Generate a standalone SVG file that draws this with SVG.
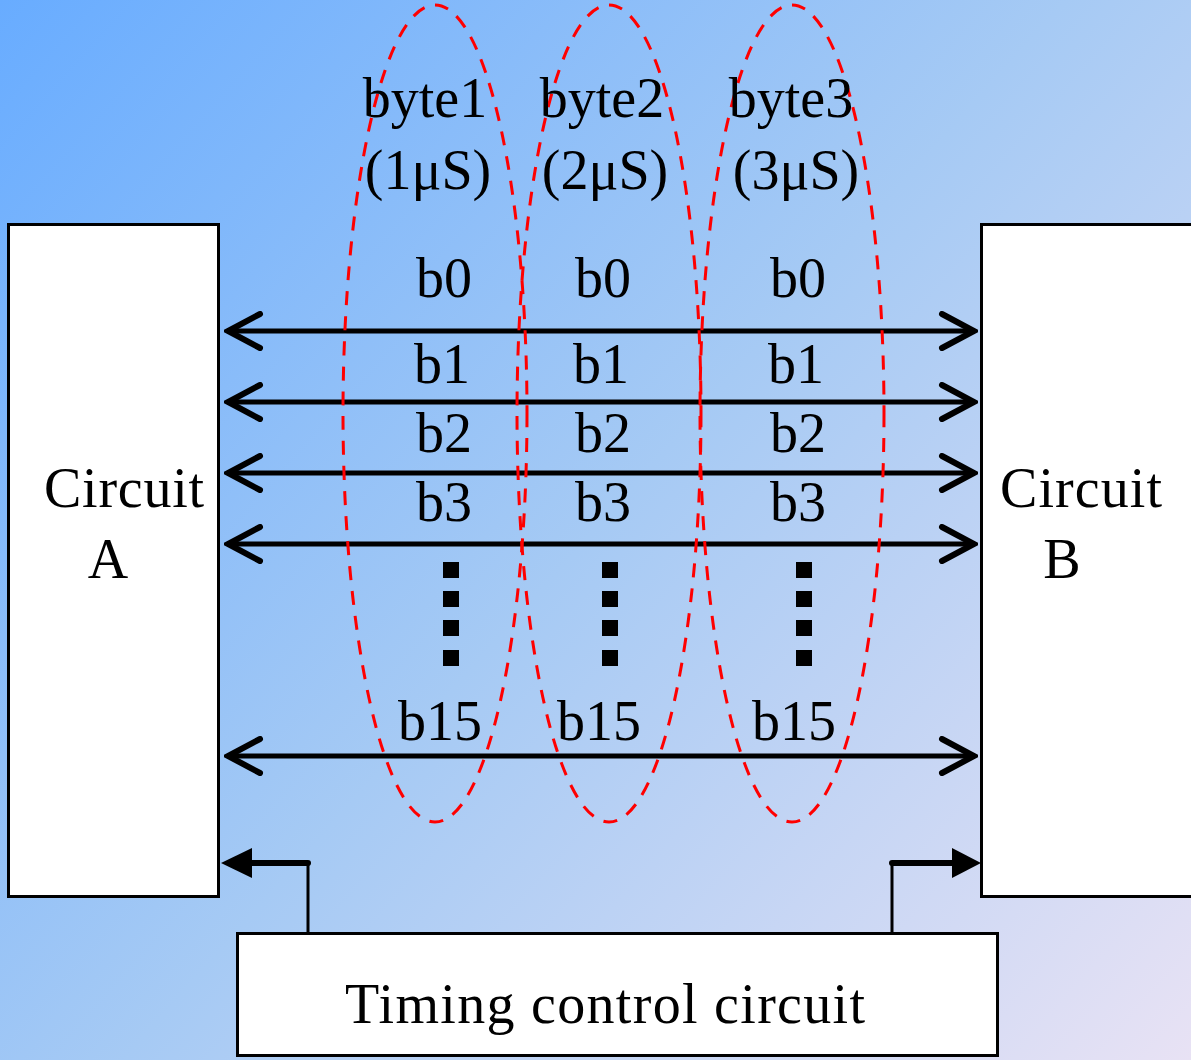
<svg xmlns="http://www.w3.org/2000/svg" width="1191" height="1060" viewBox="0 0 1191 1060">
<defs>
<linearGradient id="bg" x1="0" y1="0" x2="1191" y2="1060" gradientUnits="userSpaceOnUse">
<stop offset="0" stop-color="#68acff"/>
<stop offset="0.5" stop-color="#a6caf4"/>
<stop offset="1" stop-color="#e8e2f4"/>
</linearGradient>
<marker id="open" viewBox="0 0 40 40" refX="36" refY="20" markerWidth="40" markerHeight="40" markerUnits="userSpaceOnUse" orient="auto-start-reverse">
<path d="M4 3 L36 20 L4 37" fill="none" stroke="#000" stroke-width="6" stroke-linecap="round" stroke-linejoin="miter"/>
</marker>
</defs>
<style>
.t{font-family:"Liberation Serif","Times New Roman",serif;font-size:56px;fill:#000;text-anchor:middle}
.box{fill:#fff;stroke:#000;stroke-width:3}
.bus{stroke:#000;stroke-width:5;fill:none}
.ell{fill:none;stroke:#ff0000;stroke-width:3;stroke-dasharray:14 11}
.dot{fill:#000}
</style>
<rect x="0" y="0" width="1191" height="1060" fill="url(#bg)"/>

<g id="circuitA">
<rect class="box" x="8.5" y="224.5" width="210" height="672"/>
<text class="t" x="124" y="507" textLength="160" lengthAdjust="spacing">Circuit</text>
<text class="t" x="108" y="578">A</text>
</g>

<g id="circuitB">
<rect class="box" x="981.5" y="224.5" width="220" height="672"/>
<text class="t" x="1081" y="507" textLength="162" lengthAdjust="spacing">Circuit</text>
<text class="t" x="1062" y="578">B</text>
</g>

<g id="timing">
<rect class="box" x="237.5" y="933.5" width="760" height="122"/>
<text class="t" x="605" y="1023" textLength="520" lengthAdjust="spacing">Timing control circuit</text>
</g>

<g id="connectors">
<line class="bus" x1="228" y1="331" x2="974" y2="331" marker-start="url(#open)" marker-end="url(#open)"/>
<line class="bus" x1="228" y1="402" x2="974" y2="402" marker-start="url(#open)" marker-end="url(#open)"/>
<line class="bus" x1="228" y1="473" x2="974" y2="473" marker-start="url(#open)" marker-end="url(#open)"/>
<line class="bus" x1="228" y1="544" x2="974" y2="544" marker-start="url(#open)" marker-end="url(#open)"/>
<line class="bus" x1="228" y1="756" x2="974" y2="756" marker-start="url(#open)" marker-end="url(#open)"/>
<polyline points="308,933 308,863" fill="none" stroke="#000" stroke-width="3"/>
<line x1="308" y1="863" x2="240" y2="863" stroke="#000" stroke-width="6" stroke-linecap="round"/>
<path d="M221 863 L252 848 L252 878 Z" fill="#000"/>
<polyline points="892,933 892,863" fill="none" stroke="#000" stroke-width="3"/>
<line x1="892" y1="863" x2="960" y2="863" stroke="#000" stroke-width="6" stroke-linecap="round"/>
<path d="M981 863 L952 848 L952 878 Z" fill="#000"/>
</g>

<g id="byte1">
<ellipse class="ell" cx="435" cy="413.5" rx="92" ry="408.5"/>
<text class="t" x="425" y="117">byte1</text>
<text class="t" x="428" y="189">(1μS)</text>
<text class="t" x="444" y="297">b0</text>
<text class="t" x="442" y="383">b1</text>
<text class="t" x="444" y="452">b2</text>
<text class="t" x="444" y="521">b3</text>
<text class="t" x="440" y="740">b15</text>
<rect class="dot" x="443" y="562" width="16" height="16"/>
<rect class="dot" x="443" y="591" width="16" height="16"/>
<rect class="dot" x="443" y="620" width="16" height="16"/>
<rect class="dot" x="443" y="650" width="16" height="16"/>
</g>

<g id="byte2">
<ellipse class="ell" cx="609" cy="413.5" rx="92" ry="408.5"/>
<text class="t" x="602" y="117">byte2</text>
<text class="t" x="605" y="189">(2μS)</text>
<text class="t" x="603" y="297">b0</text>
<text class="t" x="601" y="383">b1</text>
<text class="t" x="603" y="452">b2</text>
<text class="t" x="603" y="521">b3</text>
<text class="t" x="599" y="740">b15</text>
<rect class="dot" x="602" y="562" width="16" height="16"/>
<rect class="dot" x="602" y="591" width="16" height="16"/>
<rect class="dot" x="602" y="620" width="16" height="16"/>
<rect class="dot" x="602" y="650" width="16" height="16"/>
</g>

<g id="byte3">
<ellipse class="ell" cx="792" cy="413.5" rx="92" ry="408.5"/>
<text class="t" x="791" y="117">byte3</text>
<text class="t" x="796" y="189">(3μS)</text>
<text class="t" x="798" y="297">b0</text>
<text class="t" x="796" y="383">b1</text>
<text class="t" x="798" y="452">b2</text>
<text class="t" x="798" y="521">b3</text>
<text class="t" x="794" y="740">b15</text>
<rect class="dot" x="796" y="562" width="16" height="16"/>
<rect class="dot" x="796" y="591" width="16" height="16"/>
<rect class="dot" x="796" y="620" width="16" height="16"/>
<rect class="dot" x="796" y="650" width="16" height="16"/>
</g>
</svg>
